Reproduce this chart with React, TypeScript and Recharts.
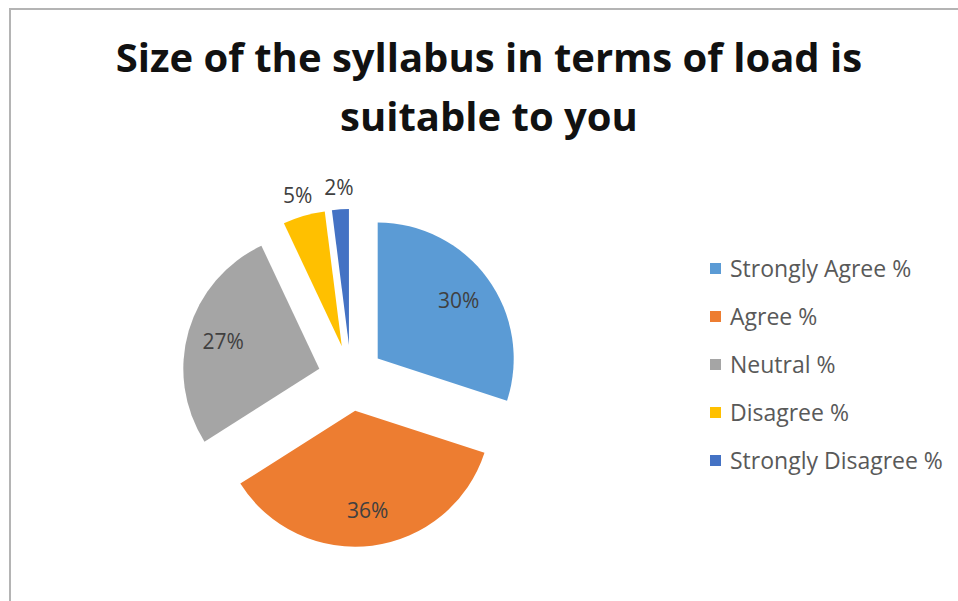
import { PieChart, Pie, Cell, Legend, Sector } from "recharts";

const categories = [
  "Strongly Agree %",
  "Agree %",
  "Neutral %",
  "Disagree %",
  "Strongly Disagree %",
];
const shares = [30, 36, 27, 5, 2];
const colors = ["#5B9BD5", "#ED7D31", "#A5A5A5", "#FFC000", "#4472C4"];
const titleLines = ["Size of the syllabus in terms of load is", "suitable to you"];

const data = categories.map((name, i) => ({ name, value: shares[i] }));

const FONT = "'Open Sans', 'DejaVu Sans', sans-serif";
const RAD = Math.PI / 180;
const EXPLODE = 33;

// every slice is pulled out along its own mid angle
const shift = (mid: number) => ({
  dx: EXPLODE * Math.cos(-mid * RAD),
  dy: EXPLODE * Math.sin(-mid * RAD),
});

function Slice(p: any) {
  const { dx, dy } = shift(p.midAngle);
  return <Sector {...p} cx={p.cx + dx} cy={p.cy + dy} stroke="none" />;
}

function SliceLabel(p: any) {
  const { dx, dy } = shift(p.midAngle);
  const small = p.percent < 0.1;
  const r = small ? p.outerRadius + 22 : 100;
  const x = p.cx + dx + r * Math.cos(-p.midAngle * RAD);
  const y = p.cy + dy + r * Math.sin(-p.midAngle * RAD);
  return (
    <text
      x={x}
      y={y}
      textAnchor="middle"
      dominantBaseline="central"
      fill="#404040"
      fontSize={21}
      fontFamily={FONT}
    >
      {`${p.value}%`}
    </text>
  );
}

function LegendList({ payload }: any) {
  const items = [...(payload || [])].sort(
    (a: any, b: any) => categories.indexOf(a.value) - categories.indexOf(b.value)
  );
  return (
    <ul style={{ listStyle: "none", margin: 0, padding: 0 }}>
      {items.map((e: any) => (
        <li
          key={e.value}
          style={{
            display: "flex",
            alignItems: "center",
            height: 48,
            fontFamily: FONT,
            fontSize: 23,
            color: "#595959",
            whiteSpace: "nowrap",
          }}
        >
          <span
            style={{
              display: "inline-block",
              width: 11,
              height: 11,
              background: e.color,
              marginRight: 9,
            }}
          />
          {e.value}
        </li>
      ))}
    </ul>
  );
}

export default function App() {
  return (
    <div style={{ position: "relative", width: 958, height: 601, background: "#fff" }}>
      <style>{`body{margin:0}`}</style>
      <div
        style={{
          position: "absolute",
          left: 9,
          top: 8,
          right: 0,
          bottom: 0,
          borderTop: "2px solid #b4b4b4",
          borderLeft: "2px solid #b4b4b4",
        }}
      />
      <div
        style={{
          position: "absolute",
          left: 0,
          width: 978,
          top: 27,
          textAlign: "center",
          fontFamily: FONT,
          fontWeight: 700,
          fontSize: 40,
          lineHeight: "59px",
          color: "#111",
        }}
      >
        {titleLines.map((t) => (
          <div key={t}>{t}</div>
        ))}
      </div>
      <PieChart
        width={958}
        height={601}
        margin={{ top: 0, right: 0, bottom: 0, left: 0 }}
        style={{ position: "absolute", left: 0, top: 0 }}
      >
        <Pie
          data={data}
          dataKey="value"
          nameKey="name"
          cx={351}
          cy={378}
          outerRadius={136}
          startAngle={90}
          endAngle={-270}
          isAnimationActive={false}
          shape={Slice}
          activeShape={Slice}
          inactiveShape={Slice}
          label={SliceLabel}
          labelLine={false}
        >
          {data.map((d, i) => (
            <Cell key={d.name} fill={colors[i]} />
          ))}
        </Pie>
        <Legend
          layout="vertical"
          verticalAlign="middle"
          align="right"
          content={LegendList}
          wrapperStyle={{ left: 710, top: 244, right: "auto", width: 248 }}
        />
      </PieChart>
    </div>
  );
}
